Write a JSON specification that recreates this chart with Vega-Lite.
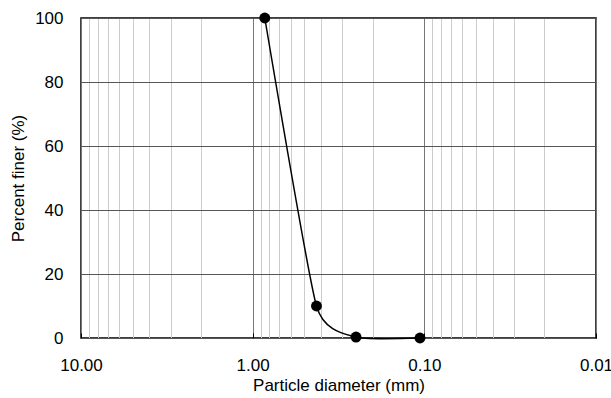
{
  "$schema": "https://vega.github.io/schema/vega-lite/v6.json",
  "width": 515,
  "height": 320,
  "autosize": {"type": "none"},
  "padding": {"left": 81, "top": 18, "right": 15, "bottom": 60},
  "background": "white",
  "config": {
    "view": {"stroke": "black", "strokeWidth": 1.5},
    "font": "Liberation Sans",
    "axis": {"labelFont": "Liberation Sans", "titleFont": "Liberation Sans", "labelColor": "black", "titleColor": "black", "titleFontWeight": "normal", "domain": false}
  },
  "data": {"values": [
    {"d": 0.85, "p": 100},
    {"d": 0.425, "p": 10},
    {"d": 0.25, "p": 0.3},
    {"d": 0.106, "p": 0}
  ]},
  "encoding": {
    "x": {
      "field": "d", "type": "quantitative",
      "scale": {"type": "log", "domain": [0.01, 10], "reverse": true, "nice": false},
      "axis": {
        "title": "Particle diameter (mm)",
        "titleFontSize": 17, "titlePadding": 4,
        "labelFontSize": 17, "labelPadding": 24,
        "values": [10, 9, 8, 7, 6, 5, 4, 3, 2, 1, 0.9, 0.8, 0.7, 0.6, 0.5, 0.4, 0.3, 0.2, 0.1, 0.09, 0.08, 0.07, 0.06, 0.05, 0.04, 0.03, 0.02, 0.01],
        "labelExpr": "indexof([10, 1, 0.1, 0.01], datum.value) >= 0 ? format(datum.value, '.2f') : ''",
        "labelOverlap": false,
        "labelFlush": false,
        "grid": true,
        "gridColor": {"condition": {"test": "indexof([10, 1, 0.1, 0.01], datum.value) >= 0", "value": "#777777"}, "value": "#cccccc"},
        "gridWidth": 1,
        "ticks": true,
        "tickSize": -5,
        "tickColor": {"condition": {"test": "indexof([10, 1, 0.1, 0.01], datum.value) >= 0", "value": "black"}, "value": "transparent"}
      }
    },
    "y": {
      "field": "p", "type": "quantitative",
      "scale": {"domain": [0, 100], "nice": false},
      "axis": {
        "title": "Percent  finer (%)",
        "titleFontSize": 17, "titlePadding": 7,
        "labelFontSize": 17, "labelPadding": 18,
        "values": [0, 20, 40, 60, 80, 100],
        "grid": true, "gridColor": "#555555", "gridWidth": 1,
        "ticks": false
      }
    }
  },
  "layer": [
    {"mark": {"type": "line", "interpolate": "cardinal", "tension": 0.5, "color": "black", "strokeWidth": 1.5}},
    {"mark": {"type": "point", "filled": true, "shape": "circle", "color": "black", "size": 120, "opacity": 1}}
  ]
}
